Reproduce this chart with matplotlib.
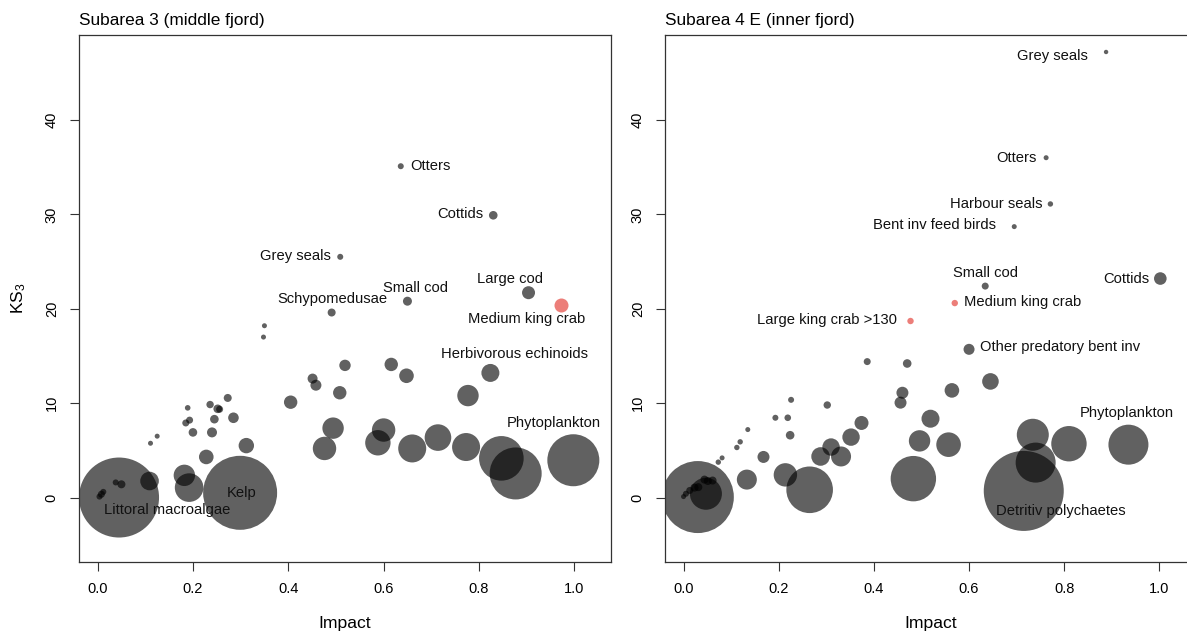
import matplotlib
matplotlib.use("Agg")
import matplotlib.pyplot as plt

plt.rcParams['font.family'] = ['Liberation Sans', 'DejaVu Sans']
plt.rcParams['mathtext.default'] = 'regular'

# Subarea 3 (middle fjord): impact, KS3, bubble radius (px)
imp3 = [0.045, 0.004, 0.008, 0.012, 0.038, 0.05, 0.109, 0.182, 0.192, 0.299,
        0.228, 0.312, 0.111, 0.125, 0.2, 0.24, 0.185, 0.193, 0.189, 0.245,
        0.236, 0.252, 0.256, 0.273, 0.285, 0.405, 0.451, 0.458, 0.519, 0.508,
        0.616, 0.648, 0.824, 0.777, 0.494, 0.476, 0.6, 0.588, 0.66, 0.714,
        0.773, 0.847, 0.877, 0.998, 0.35, 0.348, 0.491, 0.65, 0.509, 0.636,
        0.83, 0.904]
ks3 = [0.0, 0.1, 0.35, 0.6, 1.6, 1.4, 1.75, 2.35, 1.05, 0.5,
       4.3, 5.5, 5.75, 6.5, 6.9, 6.9, 7.9, 8.2, 9.5, 8.3,
       9.85, 9.4, 9.35, 10.55, 8.45, 10.1, 12.6, 11.9, 14.0, 11.1,
       14.1, 12.9, 13.2, 10.8, 7.35, 5.2, 7.15, 5.8, 5.2, 6.35,
       5.35, 4.15, 2.55, 3.95, 18.2, 17.0, 19.6, 20.8, 25.5, 35.1,
       29.9, 21.7]
size3 = [40, 3, 3.5, 3, 3, 4, 9.3, 10.7, 14.3, 37,
         7.3, 7.7, 2.5, 2.5, 4.3, 5, 3.5, 3.5, 2.8, 4.3,
         3.7, 4.3, 3.5, 4, 5.3, 6.7, 5, 5.5, 5.7, 6.7,
         6.7, 7.3, 9, 10.7, 10.7, 11.7, 11.7, 12.7, 14, 13.3,
         14, 22.3, 26, 26, 2.5, 2.5, 4, 4.5, 3, 3,
         4.3, 6.5]
crab3_imp = [0.972]
crab3_ks = [20.4]
crab3_size = [7]

# Subarea 4 E (inner fjord)
imp4 = [0.03, 0.047, 0.0, 0.005, 0.013, 0.023, 0.031, 0.044, 0.051, 0.061,
        0.073, 0.081, 0.112, 0.119, 0.135, 0.133, 0.168, 0.193, 0.219, 0.226,
        0.224, 0.214, 0.265, 0.302, 0.288, 0.31, 0.331, 0.352, 0.374, 0.386,
        0.47, 0.46, 0.456, 0.483, 0.496, 0.519, 0.6, 0.645, 0.564, 0.557,
        0.734, 0.74, 0.81, 0.935, 0.715, 0.888, 0.762, 0.771, 0.695, 0.634,
        1.002]
ks4 = [0.05, 0.4, 0.1, 0.4, 0.75, 1.05, 1.1, 1.9, 1.75, 1.8,
       3.75, 4.2, 5.3, 5.9, 7.2, 1.9, 4.3, 8.45, 8.45, 10.35,
       6.6, 2.4, 0.82, 9.8, 4.35, 5.35, 4.35, 6.4, 7.9, 14.4,
       14.2, 11.1, 10.05, 2.0, 6.0, 8.35, 15.7, 12.3, 11.35, 5.6,
       6.65, 3.7, 5.7, 5.6, 0.7, 47.2, 36.0, 31.1, 28.7, 22.4,
       23.2]
size4 = [36, 16, 2.5, 3, 3.5, 4, 4, 4, 4, 4,
         2.7, 2.5, 2.7, 2.7, 2.5, 10, 6, 3, 3.3, 3,
         4.3, 11.7, 23.3, 3.7, 9.3, 8.7, 10, 8.7, 7, 3.5,
         4.3, 6, 6, 22.7, 10.7, 9, 5.5, 8.3, 7.3, 12.3,
         16, 20, 17.7, 20, 40, 2.2, 2.5, 2.7, 2.5, 3.5,
         6.3]
crab4_imp = [0.57, 0.477]
crab4_ks = [20.6, 18.7]
crab4_size = [3.2, 3.2]

# labels: text, x, y, alignment
labels3 = [("Otters", 0.655, 35.1, 'left'),
           ("Cottids", 0.81, 30.0, 'right'),
           ("Grey seals", 0.49, 25.6, 'right'),
           ("Large cod", 0.866, 23.2, 'center'),
           ("Small cod", 0.667, 22.2, 'center'),
           ("Schypomedusae", 0.492, 21.0, 'center'),
           ("Medium king crab", 0.9, 18.9, 'center'),
           ("Herbivorous echinoids", 0.874, 15.2, 'center'),
           ("Phytoplankton", 0.958, 7.85, 'center'),
           ("Kelp", 0.303, 0.46, 'center'),
           ("Littoral macroalgae", 0.147, -1.3, 'center')]
labels4 = [("Grey seals", 0.776, 46.8, 'center'),
           ("Otters", 0.742, 36.0, 'right'),
           ("Harbour seals", 0.754, 31.1, 'right'),
           ("Bent inv feed birds", 0.657, 28.9, 'right'),
           ("Small cod", 0.635, 23.8, 'center'),
           ("Cottids", 0.98, 23.2, 'right'),
           ("Medium king crab", 0.589, 20.7, 'left'),
           ("Large king crab >130", 0.448, 18.85, 'right'),
           ("Other predatory bent inv", 0.622, 15.9, 'left'),
           ("Phytoplankton", 0.931, 8.94, 'center'),
           ("Detritiv polychaetes", 0.793, -1.38, 'center')]

W, H = 1187, 640
fig = plt.figure(figsize=(W / 100, H / 100), dpi=100)


def px2s(r):
    # radius in pixels -> scatter area in points^2
    return [(2 * v * 0.72) ** 2 for v in r]


def panel(ax, x, y, r, cx, cy, cr, labels, title):
    ax.scatter(x, y, s=px2s(r), color='black', alpha=0.62, linewidths=0)
    ax.scatter(cx, cy, s=px2s(cr), color='#EC7E79', linewidths=0)
    for t, lx, ly, ha in labels:
        ax.text(lx, ly, t, ha=ha, va='center', fontsize=10.6, color='#111111')
    ax.set_xlim(-0.039, 1.077)
    ax.set_ylim(-6.83, 49.0)
    ax.set_xticks([0.0, 0.2, 0.4, 0.6, 0.8, 1.0])
    ax.set_xticklabels(['0.0', '0.2', '0.4', '0.6', '0.8', '1.0'])
    ax.set_yticks([0, 10, 20, 30, 40])
    ax.tick_params(axis='both', length=6.5, width=0.8, labelsize=10.5,
                   pad=8, color='#333333')
    for lab in ax.get_yticklabels():
        lab.set_rotation(90)
        lab.set_va('center')
    for s in ax.spines.values():
        s.set_linewidth(0.9)
        s.set_color('#333333')
    ax.set_xlabel('Impact', fontsize=12.6, labelpad=14)
    ax.set_title(title, loc='left', fontsize=12.4, pad=7)


ax1 = fig.add_axes([79 / W, 78 / H, (611 - 79) / W, (562 - 35) / H])
panel(ax1, imp3, ks3, size3, crab3_imp, crab3_ks, crab3_size, labels3,
      'Subarea 3 (middle fjord)')
ax1.set_ylabel('KS$_3$', fontsize=12.6, labelpad=12)

ax2 = fig.add_axes([665 / W, 78 / H, (1196 - 665) / W, (562 - 35) / H])
panel(ax2, imp4, ks4, size4, crab4_imp, crab4_ks, crab4_size, labels4,
      'Subarea 4 E (inner fjord)')

fig.savefig('out.png', dpi=100)
